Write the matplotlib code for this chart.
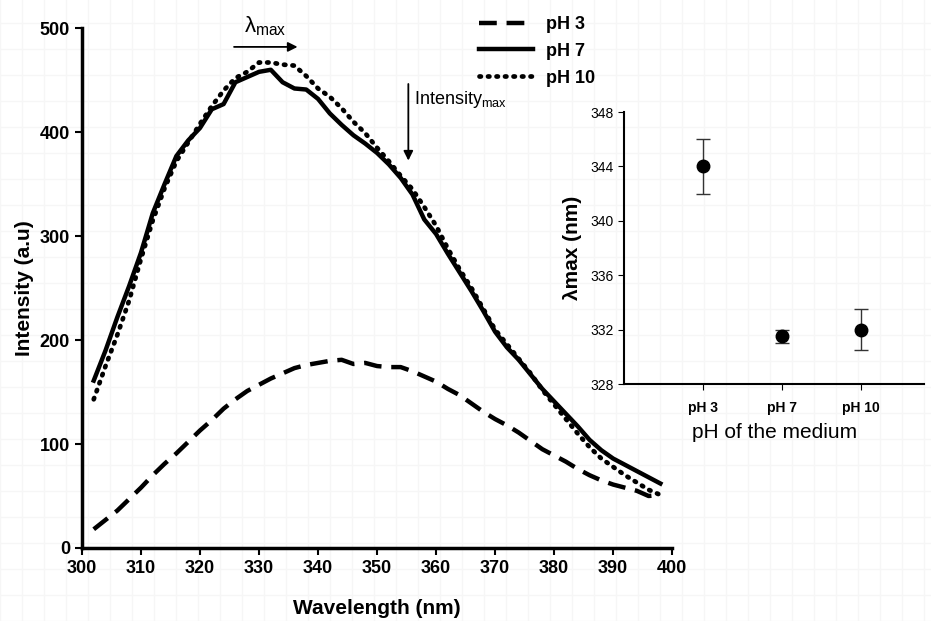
import numpy as np
import matplotlib.pyplot as plt

plt.rcParams['font.family'] = ['Liberation Sans Narrow', 'Liberation Sans', 'DejaVu Sans']

# Emission spectra
wavelength = list(range(302, 400, 2))
ph3 = [18, 27, 36, 47, 58, 70, 81, 91, 102, 113, 123, 134, 143, 151, 157, 163, 168, 173,
       176, 178, 180, 181, 177, 178, 175, 174, 174, 170, 165, 160, 153, 147, 139, 131,
       124, 118, 111, 103, 95, 89, 83, 76, 70, 65, 61, 58, 55, 50, 51]
ph7 = [161, 190, 222, 252, 284, 322, 350, 377, 392, 404, 422, 427, 448, 453, 458, 460,
       448, 442, 441, 432, 418, 407, 397, 389, 380, 369, 356, 340, 316, 302, 283, 265,
       247, 228, 208, 193, 181, 167, 153, 141, 129, 117, 104, 94, 86, 80, 74, 68, 62]
ph10 = [143, 175, 205, 238, 278, 315, 346, 372, 390, 408, 425, 440, 452, 458, 467, 467,
        465, 464, 454, 442, 434, 423, 410, 399, 385, 372, 358, 345, 328, 310, 288, 268,
        250, 230, 210, 196, 182, 168, 152, 138, 124, 110, 97, 86, 78, 70, 63, 56, 51]

# Inset: lambda max vs pH
ph_labels = ['pH 3', 'pH 7', 'pH 10']
lam_max = [344, 331.5, 332]
lam_err = [2, 0.5, 1.5]

fig = plt.figure(figsize=(9.31, 6.21), dpi=100)

# faint graph-paper background
bg = fig.add_axes([0, 0, 1, 1], zorder=-1)
for gx in np.arange(0, 931, 22):
    bg.axvline(gx, color='#f6f6f6', lw=1)
for gy in np.arange(0, 621, 26):
    bg.axhline(gy, color='#f6f6f6', lw=1)
bg.set_xlim(0, 931)
bg.set_ylim(0, 621)
bg.axis('off')

ax = fig.add_axes([0.088, 0.1176, 0.634, 0.837])
ax.patch.set_alpha(0)
ax.plot(wavelength, ph3, color='black', lw=3.2, ls=(0, (4, 2.2)), label='pH 3')
ax.plot(wavelength, ph7, color='black', lw=3.2, label='pH 7')
ax.plot(wavelength, ph10, color='black', lw=3.4, ls=(0, (0.3, 1.5)),
        dash_capstyle='round', label='pH 10')
ax.set_xlim(300, 400)
ax.set_ylim(0, 500)
ax.set_xticks(range(300, 401, 10))
ax.set_yticks(range(0, 501, 100))
for s in ['top', 'right']:
    ax.spines[s].set_visible(False)
for s in ['left', 'bottom']:
    ax.spines[s].set_linewidth(2.5)
ax.tick_params(width=1.5, length=5, labelsize=13)
for lbl in ax.get_xticklabels() + ax.get_yticklabels():
    lbl.set_fontweight('bold')
ax.set_xlabel('Wavelength (nm)', fontsize=15, fontweight='bold', labelpad=16)
ax.set_ylabel('Intensity (a.u)', fontsize=15, fontweight='bold', labelpad=4)

ax.legend(loc='upper left', bbox_to_anchor=(0.645, 1.055), frameon=False,
          handlelength=3.0, prop={'weight': 'bold', 'size': 13},
          labelspacing=0.55, handletextpad=0.7)

# arrows
ax.annotate('', xy=(337, 482), xytext=(325.3, 482),
            arrowprops=dict(arrowstyle='-|>', color='black', lw=1.3, mutation_scale=14),
            annotation_clip=False)
ax.text(331, 502, 'λ$_{\\mathregular{max}}$', ha='center', va='center', fontsize=16)
ax.annotate('', xy=(355.3, 370), xytext=(355.3, 449),
            arrowprops=dict(arrowstyle='-|>', color='black', lw=1.3, mutation_scale=14))
ax.text(356.2, 431, 'Intensity$_{\\mathregular{max}}$', ha='left', va='center', fontsize=13)

# inset
ins = fig.add_axes([0.670, 0.3816, 0.323, 0.438])
ins.patch.set_alpha(0)
ins.errorbar([1, 2, 3], lam_max, yerr=lam_err, fmt='o', color='black', ms=9,
             ecolor='#333333', elinewidth=1, capsize=5, capthick=1)
ins.set_xlim(0, 3.8)
ins.set_ylim(328, 348)
ins.set_yticks(range(328, 349, 4))
ins.set_xticks([1, 2, 3])
ins.set_xticklabels(ph_labels, fontweight='bold')
for s in ['top', 'right']:
    ins.spines[s].set_visible(False)
for s in ['left', 'bottom']:
    ins.spines[s].set_linewidth(1.5)
ins.tick_params(labelsize=10, length=4)
ins.tick_params(axis='x', pad=8)
ins.set_xlabel('pH of the medium', fontsize=15, labelpad=6)
ins.set_ylabel('λmax (nm)', fontsize=15, fontweight='bold', labelpad=6)

fig.savefig('out.png', dpi=100)
